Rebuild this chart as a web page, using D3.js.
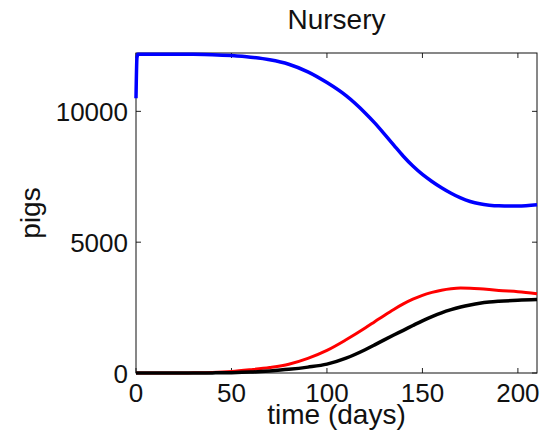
<!DOCTYPE html>
<html>
<head>
<meta charset="utf-8">
<script src="https://cdn.jsdelivr.net/npm/d3@7"></script>
<style>
  body { margin: 0; background: #fff; }
  text { font-family: "Liberation Sans", Arial, sans-serif; }
</style>
</head>
<body>
<div id="chart-area"></div>
<script>
// data
var days   = [0, 0.5, 1, 10, 20, 30, 40, 50, 60, 70, 80, 90, 100, 110, 120, 125, 130, 135, 140, 145, 150, 155, 160, 165, 170, 175, 180, 185, 190, 200, 210];
var blue   = [10500, 12050, 12180, 12185, 12185, 12180, 12165, 12130, 12070, 11970, 11800, 11510, 11100, 10600, 9940, 9560, 9140, 8710, 8285, 7910, 7590, 7320, 7080, 6870, 6690, 6555, 6465, 6415, 6390, 6380, 6430];
var red    = [0, 0, 0, 0, 2, 6, 18, 55, 125, 210, 335, 560, 865, 1270, 1720, 1960, 2200, 2430, 2640, 2820, 2970, 3080, 3165, 3220, 3245, 3240, 3220, 3190, 3155, 3105, 3030];
var black  = [0, 0, 0, 0, 0, 1, 4, 12, 35, 80, 140, 225, 340, 570, 890, 1075, 1265, 1450, 1630, 1815, 1995, 2155, 2300, 2420, 2520, 2600, 2665, 2710, 2740, 2780, 2805];
var xTicks = [0, 50, 100, 150, 200];
var yTicks = [0, 5000, 10000];

var margin = { left: 136, right: 8, top: 53, bottom: 67 };
var width = 545 - margin.left - margin.right,
    height = 440 - margin.top - margin.bottom;

var svg = d3.select("#chart-area")
    .append("svg")
        .attr("width", 545)
        .attr("height", 440);

svg.append("rect").attr("width", 545).attr("height", 440).attr("fill", "#fff");

var g = svg.append("g")
    .attr("transform", "translate(" + margin.left + ", " + margin.top + ")");

var x = d3.scaleLinear().domain([0, 210]).range([0, width]);
var y = d3.scaleLinear().domain([0, 12230]).range([height, 0]);

// ticks (inside, on all four sides)
g.selectAll(".xt").data(xTicks).enter().append("g").each(function(d) {
    var s = d3.select(this);
    s.append("line").attr("x1", x(d)).attr("x2", x(d)).attr("y1", height).attr("y2", height - 5)
        .attr("stroke", "#222").attr("stroke-width", 1);
    s.append("line").attr("x1", x(d)).attr("x2", x(d)).attr("y1", 0).attr("y2", 5)
        .attr("stroke", "#222").attr("stroke-width", 1);
    s.append("text").attr("x", x(d)).attr("y", height + 29)
        .attr("text-anchor", "middle").attr("font-size", "26px").attr("fill", "#111").text(d);
});

g.selectAll(".yt").data(yTicks).enter().append("g").each(function(d) {
    var s = d3.select(this);
    s.append("line").attr("x1", 0).attr("x2", 5).attr("y1", y(d)).attr("y2", y(d))
        .attr("stroke", "#222").attr("stroke-width", 1);
    s.append("line").attr("x1", width).attr("x2", width - 5).attr("y1", y(d)).attr("y2", y(d))
        .attr("stroke", "#222").attr("stroke-width", 1);
    s.append("text").attr("x", -8).attr("y", y(d) + 9.5)
        .attr("text-anchor", "end").attr("font-size", "26px").attr("fill", "#111").text(d);
});

// box
g.append("rect")
    .attr("width", width).attr("height", height)
    .attr("fill", "none").attr("stroke", "#111").attr("stroke-width", 1);

// lines
var line = d3.line()
    .x(function(d, i) { return x(days[i]); })
    .y(function(d) { return y(d); })
    .curve(d3.curveMonotoneX);

g.append("path").datum(blue).attr("d", line)
    .attr("fill", "none").attr("stroke", "#0000ff").attr("stroke-width", 3.5);
g.append("path").datum(red).attr("d", line)
    .attr("fill", "none").attr("stroke", "#ff0000").attr("stroke-width", 3);
g.append("path").datum(black).attr("d", line)
    .attr("fill", "none").attr("stroke", "#000").attr("stroke-width", 3.5);

// Title
g.append("text")
    .attr("x", width / 2)
    .attr("y", -24)
    .attr("text-anchor", "middle")
    .attr("font-size", "28px")
    .attr("fill", "#111")
    .text("Nursery");

// X Label
g.append("text")
    .attr("x", width / 2)
    .attr("y", height + 51)
    .attr("text-anchor", "middle")
    .attr("font-size", "28px")
    .attr("fill", "#111")
    .text("time (days)");

// Y Label
g.append("text")
    .attr("x", -(height / 2))
    .attr("y", -96)
    .attr("text-anchor", "middle")
    .attr("transform", "rotate(-90)")
    .attr("font-size", "28px")
    .attr("fill", "#111")
    .text("pigs");
</script>
</body>
</html>
